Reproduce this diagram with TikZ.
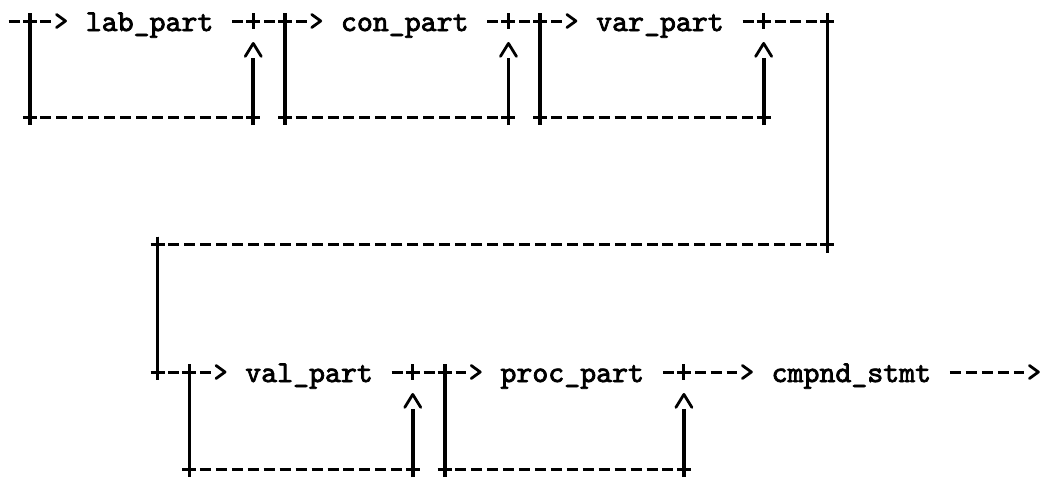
\documentclass[tikz,border=0pt]{standalone}
\usepackage{fontspec}
\newfontfamily\tw[FakeBold=2.5]{lmmono10-regular.otf}
\usetikzlibrary{arrows.meta}
\pgfdeclarearrow{
  name=chev,
  setup code={%
    \pgfarrowssettipend{1.4pt}%
    \pgfarrowssetbackend{-9pt}%
    \pgfarrowssetlineend{-14.05pt}%
  },
  drawing code={%
    \pgfsetdash{}{0pt}%
    \pgfsetlinewidth{2.8pt}%
    \pgfsetroundjoin\pgfsetroundcap
    \pgfpathmoveto{\pgfqpoint{-9pt}{6.5pt}}%
    \pgfpathlineto{\pgfqpoint{0pt}{0pt}}%
    \pgfpathlineto{\pgfqpoint{-9pt}{-6.5pt}}%
    \pgfusepathqstroke
  }
}
\pgfdeclarearrow{
  name=caret,
  setup code={%
    \pgfarrowssettipend{1.4pt}%
    \pgfarrowssetbackend{-13pt}%
    \pgfarrowssetlineend{-14.6pt}%
  },
  drawing code={%
    \pgfsetdash{}{0pt}%
    \pgfsetlinewidth{2.8pt}%
    \pgfsetroundjoin\pgfsetroundcap
    \pgfpathmoveto{\pgfqpoint{-13pt}{8pt}}%
    \pgfpathlineto{\pgfqpoint{0pt}{0pt}}%
    \pgfpathlineto{\pgfqpoint{-13pt}{-8pt}}%
    \pgfusepathqstroke
  }
}
\tikzset{
  runc/.style={line width=3pt,dash pattern=on 11pt off 4.95pt,dash phase=5.5pt},
  runs/.style={line width=3pt,dash pattern=on 11pt off 4.95pt,dash phase=0pt},
  bar/.style={line width=3.8pt},
  tickl/.style={line width=3pt},
  lbl/.style={inner xsep=18.65pt,inner ysep=0pt,text height=20pt,text depth=0pt,
    font=\tw\fontsize{30.38}{30}\selectfont},
  jct/.pic={\draw[tickl] (-7,0) -- (7,0) (0,-8) -- (0,8);}
}
\begin{document}
\begin{tikzpicture}[x=1pt,y=-1pt]
\useasboundingbox (0,0) rectangle (1045,477);
% junctions, row 1
\coordinate (s1) at (8.5,21);
\coordinate (a1) at (29.95,21);
\coordinate (b1) at (253.25,21);
\coordinate (a2) at (285.15,21);
\coordinate (b2) at (508.45,21);
\coordinate (a3) at (540.35,21);
\coordinate (b3) at (763.65,21);
\coordinate (k1) at (827.45,21);
\coordinate (l1) at (29.95,117);
\coordinate (r1) at (253.25,117);
\coordinate (l2) at (285.15,117);
\coordinate (r2) at (508.45,117);
\coordinate (l3) at (540.35,117);
\coordinate (r3) at (763.65,117);
% middle
\coordinate (k2) at (827.45,244.5);
\coordinate (d1) at (157.55,244.5);
% row 2
\coordinate (d2) at (157.55,372);
\coordinate (a4) at (189.45,372);
\coordinate (b4) at (412.75,372);
\coordinate (a5) at (444.65,372);
\coordinate (b5) at (683.9,372);
\coordinate (l4) at (189.45,469);
\coordinate (r4) at (412.75,469);
\coordinate (l5) at (444.65,469);
\coordinate (r5) at (683.9,469);
\coordinate (fin) at (1039.8,372);
% labels
\node[lbl] (lab) at (149.575,21) {lab\_part};
\node[lbl] (con) at (404.775,21) {con\_part};
\node[lbl] (var) at (659.975,21) {var\_part};
\node[lbl] (val) at (309.075,372) {val\_part};
\node[lbl] (proc) at (572.25,372) {proc\_part};
\node[lbl] (cmpnd) at (851.375,372) {cmpnd\_stmt};
% main flow
\draw[runs,-chev] (s1) -- (a1) -- (lab.west);
\draw[runs,-chev] (lab.east) -- (b1) -- (a2) -- (con.west);
\draw[runs,-chev] (con.east) -- (b2) -- (a3) -- (var.west);
\draw[runs] (var.east) -- (b3) -- (k1);
\draw[bar] ([yshift=8pt]k1) -- ([yshift=-8pt]k2);
\draw[runc] (k2) -- (d1);
\draw[bar] ([yshift=8pt]d1) -- ([yshift=-8pt]d2);
\draw[runc,-chev] (d2) -- (a4) -- (val.west);
\draw[runs,-chev] (val.east) -- (b4) -- (a5) -- (proc.west);
\draw[runs,-chev] (proc.east) -- (b5) -- (cmpnd.west);
\draw[runs,-chev] (cmpnd.east) -- (fin);
% bypass loops
\foreach \a/\l/\r/\b in {a1/l1/r1/b1,a2/l2/r2/b2,a3/l3/r3/b3,a4/l4/r4/b4,a5/l5/r5/b5}{
  \draw[bar] ([yshift=8pt]\a) -- ([yshift=-8pt]\l);
  \draw[runc] (\l) -- (\r);
  \draw[bar,-caret,shorten >=21pt] ([yshift=-8pt]\r) -- (\b);
}
% junction marks
\foreach \p in {a1,b1,a2,b2,a3,b3,k1,l1,r1,l2,r2,l3,r3,k2,d1,d2,a4,b4,a5,b5,l4,r4,l5,r5}{
  \pic at (\p) {jct};
}
\end{tikzpicture}
\end{document}
